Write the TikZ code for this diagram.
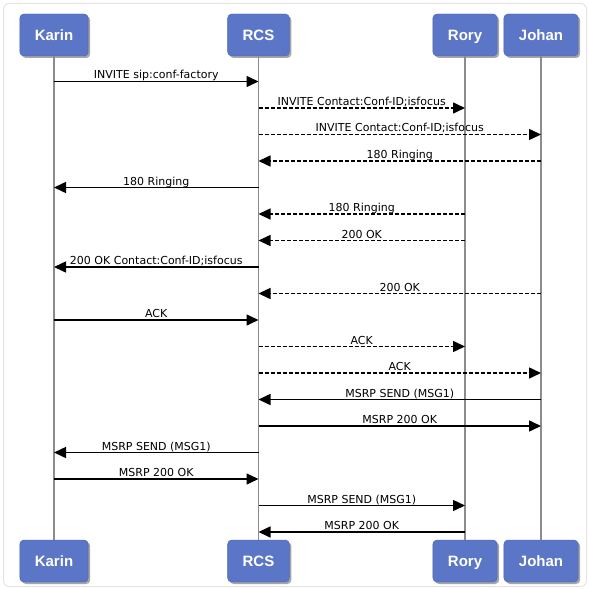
\documentclass[tikz,border=0pt]{standalone}
\usepackage{fontspec}
\setmainfont{DejaVu Sans}
\newfontfamily\actorfont{Liberation Sans}
\usetikzlibrary{arrows.meta,shadows}
\usepackage{xcolor}
\definecolor{actorblue}{HTML}{5B76C6}
\definecolor{actoredge}{HTML}{4A63B2}
\definecolor{lifegray}{HTML}{8C8C8C}
\definecolor{framegray}{HTML}{E4E4E4}
\newcommand{\actor}[4] {
    \node[actor] (#1) at (#2, #3) {#4};
}
\newcommand{\msg}[6] {
    \coordinate (#1a) at (#3, #5);
    \coordinate (#1b) at (#4, #5);
    \draw[#2] (#1a) -- node[msglabel] {#6} (#1b);
}
\tikzset{
    actor/.style={
        rectangle,
        rounded corners=4bp,
        fill=actorblue,
        draw=actoredge,
        text=white,
        inner xsep=15bp,
        text height=11bp,
        text depth=0bp,
        minimum height=42bp,
        font=\actorfont\bfseries\fontsize{15bp}{17bp}\selectfont,
        drop shadow={shadow xshift=2bp,shadow yshift=-2bp,fill=black,opacity=0.35}
    },
    lifeline/.style={draw=lifegray,line width=1.1bp},
    solidmsg/.style={line width=1.5bp,-{Triangle[length=12bp,width=11bp]}},
    dashmsg/.style={solidmsg,dash pattern=on 4bp off 2bp},
    msglabel/.style={
        anchor=base,
        yshift=2.5bp,
        inner sep=0bp,
        text=black,
        font=\fontsize{11bp}{13bp}\selectfont
    }
}

\begin{document}
\begin{tikzpicture}[x=1bp,y=-1bp]
    \useasboundingbox (0,0) rectangle (589,589);
    \draw[framegray,rounded corners=6bp,line width=1bp] (3.5,3.5) rectangle (586.5,586.5);
    \actor{karin}{54}{35}{Karin}
    \actor{rcs}{258.5}{35}{RCS}
    \actor{rory}{465}{35}{Rory}
    \actor{johan}{541}{35}{Johan}
    \actor{karinb}{54}{561}{Karin}
    \actor{rcsb}{258.5}{561}{RCS}
    \actor{roryb}{465}{561}{Rory}
    \actor{johanb}{541}{561}{Johan}
    \foreach \a in {karin,rcs,rory,johan}
        \draw[lifeline] (\a.south) -- (\a b.north);
    \msg{m1}{solidmsg}{54}{258.5}{81.5}{INVITE sip:conf-factory}
    \msg{m2}{dashmsg}{258.5}{465}{108}{INVITE Contact:Conf-ID;isfocus}
    \msg{m3}{dashmsg}{258.5}{541}{134.5}{INVITE Contact:Conf-ID;isfocus}
    \msg{m4}{dashmsg}{541}{258.5}{161}{180 Ringing}
    \msg{m5}{solidmsg}{258.5}{54}{187.5}{180 Ringing}
    \msg{m6}{dashmsg}{465}{258.5}{214}{180 Ringing}
    \msg{m7}{dashmsg}{465}{258.5}{240.5}{200 OK}
    \msg{m8}{solidmsg}{258.5}{54}{267}{200 OK Contact:Conf-ID;isfocus}
    \msg{m9}{dashmsg}{541}{258.5}{293.5}{200 OK}
    \msg{m10}{solidmsg}{54}{258.5}{320}{ACK}
    \msg{m11}{dashmsg}{258.5}{465}{346.5}{ACK}
    \msg{m12}{dashmsg}{258.5}{541}{373}{ACK}
    \msg{m13}{solidmsg}{541}{258.5}{399.5}{MSRP SEND (MSG1)}
    \msg{m14}{solidmsg}{258.5}{541}{426}{MSRP 200 OK}
    \msg{m15}{solidmsg}{258.5}{54}{452.5}{MSRP SEND (MSG1)}
    \msg{m16}{solidmsg}{54}{258.5}{479}{MSRP 200 OK}
    \msg{m17}{solidmsg}{258.5}{465}{505.5}{MSRP SEND (MSG1)}
    \msg{m18}{solidmsg}{465}{258.5}{532}{MSRP 200 OK}
\end{tikzpicture}
\end{document}
